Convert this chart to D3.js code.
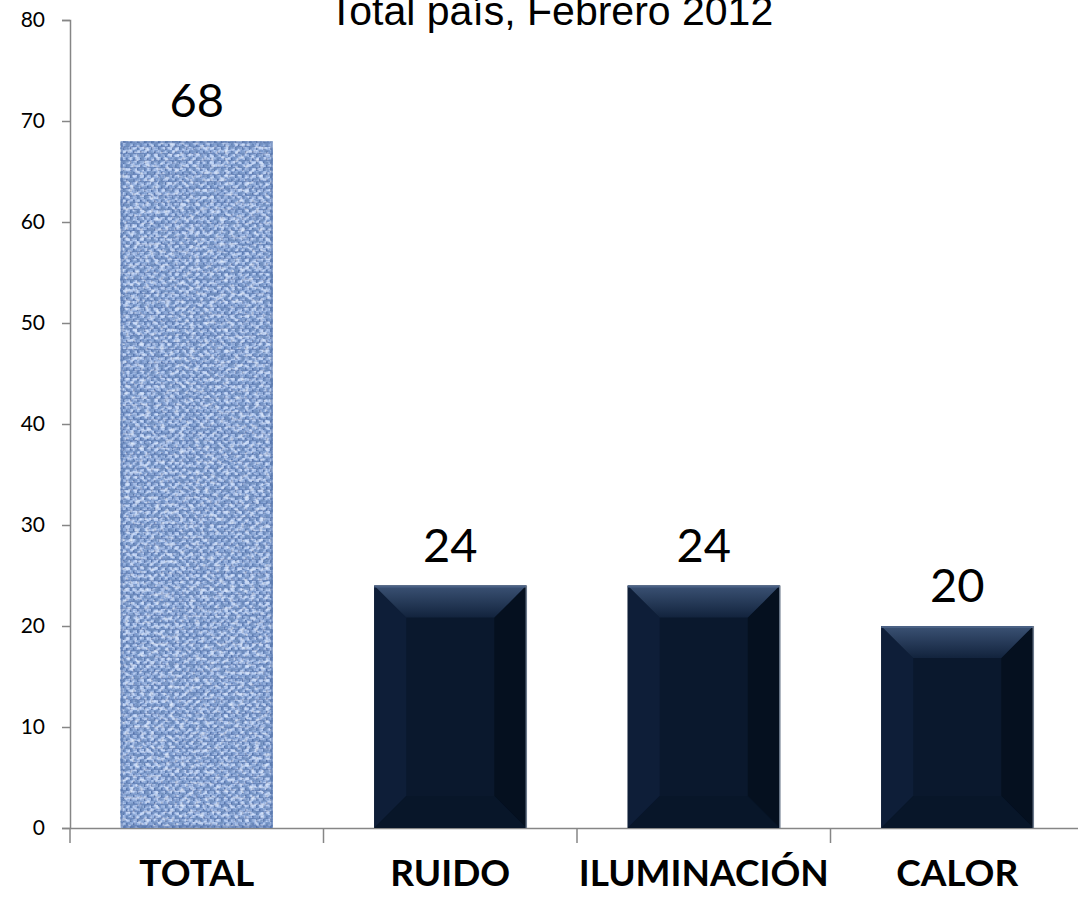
<!DOCTYPE html>
<html>
<head>
<meta charset="utf-8">
<script src="https://cdn.jsdelivr.net/npm/d3@7"></script>
<style>
body{margin:0;background:#fff;}
</style>
</head>
<body>
<svg width="1078" height="899"></svg>
<script>
// data
var categories = ["TOTAL", "RUIDO", "ILUMINACIÓN", "CALOR"];
var values = [68, 24, 24, 20];
var yTicks = [0, 10, 20, 30, 40, 50, 60, 70, 80];
var title = "Total país, Febrero 2012";

var svg = d3.select("svg");
var plotLeft = 70, plotRight = 1084, plotTop = 20, plotBottom = 828;

var xScale = d3.scaleBand().domain(categories).range([plotLeft, plotRight]).paddingInner(0.4).paddingOuter(0.2);
var yScale = d3.scaleLinear().domain([0, 80]).range([plotBottom, plotTop]);
var bevel = 32;

var defs = svg.append("defs");

// woven blue texture for the first bar
var pat = defs.append("pattern").attr("id", "weave").attr("patternUnits", "userSpaceOnUse")
  .attr("width", 7).attr("height", 7);
pat.append("rect").attr("width", 7).attr("height", 7).attr("fill", "#7f9ed4");
pat.append("rect").attr("x", 0).attr("y", 0).attr("width", 4).attr("height", 3).attr("fill", "#aac3ee");
pat.append("rect").attr("x", 4).attr("y", 3).attr("width", 3).attr("height", 3).attr("fill", "#9bb7e6");
pat.append("rect").attr("x", 4).attr("y", 0).attr("width", 1.5).attr("height", 3).attr("fill", "#4a6aa6");
pat.append("rect").attr("x", 0).attr("y", 4).attr("width", 1.5).attr("height", 3).attr("fill", "#41619e");
pat.append("rect").attr("x", 0).attr("y", 6.2).attr("width", 7).attr("height", 0.8).attr("fill", "#5c7bb6");

var noise = defs.append("filter").attr("id", "grain").attr("x", 0).attr("y", 0).attr("width", 1).attr("height", 1);
noise.append("feTurbulence").attr("type", "fractalNoise").attr("baseFrequency", "0.2 0.28").attr("numOctaves", 2).attr("seed", 5).attr("result", "n");
noise.append("feColorMatrix").attr("in", "n").attr("type", "matrix")
  .attr("values", "0 0 0 0 0.17  0 0 0 0 0.28  0 0 0 0 0.52  0 0 0 -2.6 1.55").attr("result", "dark");
noise.append("feColorMatrix").attr("in", "n").attr("type", "matrix")
  .attr("values", "0 0 0 0 0.76  0 0 0 0 0.85  0 0 0 0 0.98  0 0 0 2.2 -1.05").attr("result", "light");
noise.append("feMerge").selectAll("feMergeNode").data(["SourceGraphic", "dark", "light"]).enter()
  .append("feMergeNode").attr("in", function(d){ return d; });

var topGrad = defs.append("linearGradient").attr("id", "topBevel").attr("x1", 0).attr("y1", 0).attr("x2", 0).attr("y2", 1);
topGrad.append("stop").attr("offset", "0%").attr("stop-color", "#3b5274");
topGrad.append("stop").attr("offset", "100%").attr("stop-color", "#12233d");

var g = svg.append("g");

// title
svg.append("text")
  .attr("x", 551).attr("y", 25)
  .attr("text-anchor", "middle")
  .attr("font-family", "Liberation Sans, Arial, sans-serif")
  .attr("font-size", "41px")
  .attr("fill", "#000")
  .text(title);

// y axis
var yAxis = g.append("g")
  .attr("transform", "translate(" + plotLeft + ",0)")
  .call(d3.axisLeft(yScale).tickValues(yTicks).tickSize(8).tickPadding(17));
yAxis.select(".domain").attr("stroke", "#868686").attr("stroke-width", 1.5);
yAxis.selectAll(".tick line").attr("stroke", "#868686").attr("stroke-width", 1.5);
yAxis.selectAll(".tick text").attr("font-family", "Lato, Carlito, sans-serif").attr("font-size", "21px").attr("fill", "#000");

// x axis
var xAxis = g.append("g")
  .attr("transform", "translate(0," + plotBottom + ")")
  .call(d3.axisBottom(xScale).tickSize(0).tickFormat(""));
xAxis.select(".domain").attr("stroke", "#868686").attr("stroke-width", 1.5);
var step = xScale.step();
var boundaries = d3.range(categories.length).map(function(i){ return plotLeft + i * step; });
xAxis.selectAll(".bound").data(boundaries).enter().append("line")
  .attr("x1", function(d){ return d; }).attr("x2", function(d){ return d; })
  .attr("y1", 0).attr("y2", 15)
  .attr("stroke", "#868686").attr("stroke-width", 1.5);

// bars
var bars = g.selectAll(".bar").data(categories).enter().append("g").attr("class", "bar");
bars.each(function(c, i){
  var b = d3.select(this);
  var x0 = xScale(c), w = xScale.bandwidth();
  var y0 = yScale(values[i]), y1 = yScale(0);
  if (i === 0) {
    b.append("rect").attr("x", x0).attr("y", y0).attr("width", w).attr("height", y1 - y0)
      .attr("fill", "url(#weave)").attr("filter", "url(#grain)");
    b.append("rect").attr("x", x0 + 1).attr("y", y0 + 1).attr("width", w - 2).attr("height", y1 - y0 - 2)
      .attr("fill", "none").attr("stroke", "#4a69a3").attr("stroke-width", 2).attr("opacity", 0.5);
  } else {
    var x1 = x0 + w;
    var bv = Math.min(bevel, (y1 - y0) / 2);
    b.append("rect").attr("x", x0).attr("y", y0).attr("width", w).attr("height", y1 - y0).attr("fill", "#0a182d");
    // left bevel
    b.append("path").attr("d", "M" + x0 + "," + y0 + "L" + (x0 + bv) + "," + (y0 + bv) + "L" + (x0 + bv) + "," + (y1 - bv) + "L" + x0 + "," + y1 + "Z")
      .attr("fill", "#0e1e38");
    // right bevel
    b.append("path").attr("d", "M" + x1 + "," + y0 + "L" + (x1 - bv) + "," + (y0 + bv) + "L" + (x1 - bv) + "," + (y1 - bv) + "L" + x1 + "," + y1 + "Z")
      .attr("fill", "#05101f");
    // bottom bevel
    b.append("path").attr("d", "M" + x0 + "," + y1 + "L" + (x0 + bv) + "," + (y1 - bv) + "L" + (x1 - bv) + "," + (y1 - bv) + "L" + x1 + "," + y1 + "Z")
      .attr("fill", "#081629");
    // top bevel
    b.append("path").attr("d", "M" + x0 + "," + y0 + "L" + x1 + "," + y0 + "L" + (x1 - bv) + "," + (y0 + bv) + "L" + (x0 + bv) + "," + (y0 + bv) + "Z")
      .attr("fill", "url(#topBevel)");
    b.append("line").attr("x1", x0).attr("x2", x1).attr("y1", y0 + 1).attr("y2", y0 + 1)
      .attr("stroke", "#4a6184").attr("stroke-width", 2);
    b.append("line").attr("x1", x1).attr("x2", x1).attr("y1", y0).attr("y2", y1)
      .attr("stroke", "#6d7a8c").attr("stroke-width", 1.5);
  }
});

// value labels
g.selectAll(".val").data(categories).enter().append("text")
  .attr("x", function(c){ return xScale(c) + xScale.bandwidth() / 2; })
  .attr("y", function(c, i){ return yScale(values[i]) - 24; })
  .attr("text-anchor", "middle")
  .attr("font-family", "Lato, Carlito, sans-serif")
  .attr("font-size", "47px")
  .attr("fill", "#000")
  .text(function(c, i){ return values[i]; });

// category labels
g.selectAll(".cat").data(categories).enter().append("text")
  .attr("x", function(c){ return xScale(c) + xScale.bandwidth() / 2; })
  .attr("y", 886)
  .attr("text-anchor", "middle")
  .attr("font-family", "Lato, Carlito, sans-serif")
  .attr("font-weight", "bold")
  .attr("font-size", "37px")
  .attr("fill", "#000")
  .text(function(c){ return c; });
</script>
</body>
</html>
